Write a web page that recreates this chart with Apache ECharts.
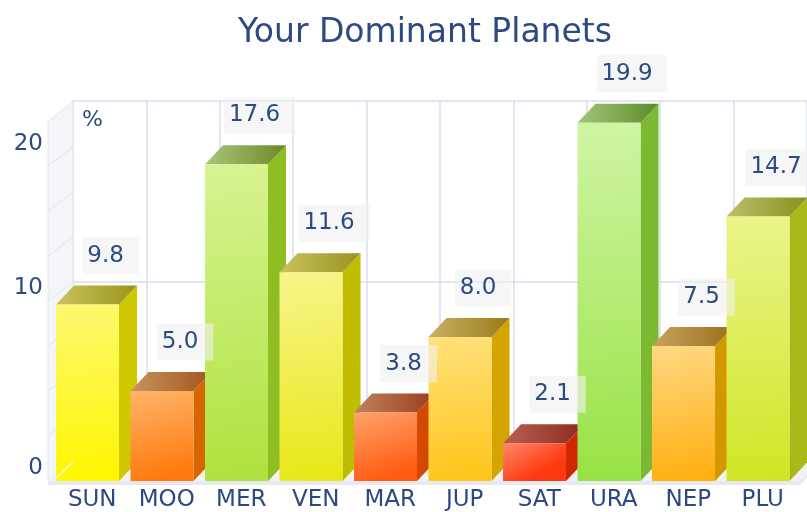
<!DOCTYPE html>
<html>
<head>
<meta charset="utf-8">
<script src="https://cdn.jsdelivr.net/npm/echarts@6/dist/echarts.min.js"></script>
<style>html,body{margin:0;padding:0;background:#fff}#c{width:807px;height:512px}</style>
</head>
<body>
<div id="c"></div>
<script>
const categories = ['SUN', 'MOO', 'MER', 'VEN', 'MAR', 'JUP', 'SAT', 'URA', 'NEP', 'PLU'];
const values = [9.8, 5.0, 17.6, 11.6, 3.8, 8.0, 2.1, 19.9, 7.5, 14.7];
const yTicks = [0, 10, 20];
const titleText = 'Your Dominant Planets';
const unitText = '%';

// [frontTop, frontBottom, side, topLeft, topRight]
const palette = [
  ['#fdf872', '#fff600', '#cfc700', '#c9c35e', '#9a9418'],
  ['#ffb46a', '#ff790c', '#d66600', '#c6935f', '#a3561a'],
  ['#d8f392', '#aee23e', '#8ebd24', '#aac678', '#6a8a28'],
  ['#f8f48a', '#e8e818', '#c0bd00', '#c9c262', '#9a931e'],
  ['#ffa26a', '#ff5c12', '#d44800', '#c2825e', '#993e1e'],
  ['#ffe27c', '#ffc51a', '#d4a400', '#c9b162', '#9a7b18'],
  ['#ff886a', '#ff3a12', '#cf2800', '#ba6052', '#8c2a1e'],
  ['#cff5a4', '#98e244', '#7bb930', '#a0c67a', '#5c8c28'],
  ['#ffd882', '#ffb012', '#d39800', '#c9a262', '#99701a'],
  ['#eaf58c', '#cfe624', '#a8b818', '#bac068', '#89911e']
];

const navy = '#2d4981';
const FONT = '"DejaVu Sans", Verdana, sans-serif';

function geom(api, i, v) {
  const base = api.coord([i, 0]);
  const top = api.coord([i, v]);
  const band = api.size([1, 0])[0];
  const w = band * 0.846;
  const dx = band * 0.242, dy = -band * 0.255;
  const l = base[0] - band / 2 + 1;
  return { l: l, r: l + w, w: w, t: top[1], b: base[1], dx: dx, dy: dy, band: band };
}

function lin(x2, y2, c1, c2) {
  return { type: 'linear', x: 0, y: 0, x2: x2, y2: y2, colorStops: [{ offset: 0, color: c1 }, { offset: 1, color: c2 }] };
}

function renderFrame(params, api) {
  const band = api.size([1, 0])[0];
  const dx = band * 0.242, dy = -band * 0.255;
  const p0 = api.coord([0, 0]);
  const pTop = api.coord([0, 20]);
  const pEnd = api.coord([categories.length - 1, 0]);
  const left = p0[0] - band / 2;
  const right = pEnd[0] + band / 2;
  const wf = left - 7;
  const children = [];
  children.push({ type: 'polygon', shape: { points: [[wf, pTop[1]], [left + dx, pTop[1] + dy], [left + dx, p0[1] + dy], [wf, p0[1]]] },
    style: { fill: '#f4f5f8', stroke: '#e4e6ee', lineWidth: 1 } });
  for (let k = 1; k < 8; k++) {
    const y = api.coord([0, k * 2.5])[1];
    children.push({ type: 'line', shape: { x1: wf, y1: y, x2: left + dx, y2: y + dy }, style: { stroke: '#e3e5ee', lineWidth: 1 } });
  }
  children.push({ type: 'polygon', shape: { points: [[wf, p0[1]], [right, p0[1]], [right + dx, p0[1] + dy], [left + dx, p0[1] + dy]] },
    style: { fill: '#f1f2f6' } });
  children.push({ type: 'rect', shape: { x: wf, y: p0[1], width: right - wf, height: 4 }, style: { fill: '#e6e9f1' } });
  children.push({ type: 'polygon', shape: { points: [[right, p0[1]], [right + dx, p0[1] + dy], [right + dx, p0[1] + dy + 4], [right, p0[1] + 4]] }, style: { fill: '#e6e9f1' } });
  return { type: 'group', children: children };
}

function renderBar(params, api) {
  const i = api.value(0), v = api.value(1);
  const g = geom(api, i, v);
  const c = palette[i];
  return {
    type: 'group',
    children: [
      { type: 'polygon', shape: { points: [[g.r, g.t], [g.r + g.dx, g.t + g.dy], [g.r + g.dx, g.b + g.dy], [g.r, g.b]] },
        style: { fill: c[2] } },
      { type: 'polygon', shape: { points: [[g.l, g.t], [g.r, g.t], [g.r + g.dx, g.t + g.dy], [g.l + g.dx, g.t + g.dy]] },
        style: { fill: lin(1, 0, c[3], c[4]) } },
      { type: 'rect', shape: { x: g.l, y: g.t, width: g.w, height: g.b - g.t },
        style: { fill: lin(0.35, 1, c[0], c[1]) } }
    ]
  };
}

function renderLabel(params, api) {
  const i = api.value(0), v = api.value(1);
  const g = geom(api, i, v);
  return {
    type: 'text',
    x: g.l + g.w / 2 + g.dx + 5,
    y: g.t + g.dy - 30,
    style: {
      text: v.toFixed(1), align: 'center', verticalAlign: 'middle',
      fontSize: 23, fontFamily: FONT, fill: navy,
      backgroundColor: 'rgba(240,240,240,0.62)', padding: [7, 15, 7, 5]
    }
  };
}

function renderEdge(params, api) {
  const band = api.size([1, 0])[0];
  const dx = band * 0.242, dy = -band * 0.255;
  const p0 = api.coord([0, 0]);
  const left = p0[0] - band / 2;
  return { type: 'line', shape: { x1: left, y1: p0[1] - 2, x2: left + dx, y2: p0[1] + dy }, style: { stroke: 'rgba(240,242,248,0.9)', lineWidth: 1.5 } };
}

const chart = echarts.init(document.getElementById('c'), null, { renderer: 'canvas' });
const barData = values.map((v, i) => [i, v]);

chart.setOption({
  animation: false,
  backgroundColor: '#ffffff',
  title: [
    { text: titleText, left: 233, top: 12, textStyle: { fontSize: 33, fontWeight: 'normal', color: navy, fontFamily: FONT } },
    { text: unitText, left: 77, top: 104, textStyle: { fontSize: 22, fontWeight: 'normal', color: navy, fontFamily: FONT } }
  ],
  grid: [
    { left: 55, right: 7, top: 121, bottom: 31 },
    { left: 73, right: -11, top: 101, bottom: 50 }
  ],
  xAxis: [
    { gridIndex: 0, type: 'category', data: categories, axisLine: { show: false }, axisTick: { show: false },
      splitLine: { show: false }, axisLabel: { color: navy, fontSize: 23, fontFamily: FONT, margin: 8, interval: 0 } },
    { gridIndex: 1, type: 'category', data: categories, axisLine: { show: false }, axisTick: { show: false },
      axisLabel: { show: false }, splitLine: { show: true, interval: 0, lineStyle: { color: '#dadded', width: 1.5 } } }
  ],
  yAxis: [
    { gridIndex: 0, type: 'value', min: 0, max: 20, show: false, splitLine: { show: false } },
    { gridIndex: 1, type: 'value', min: yTicks[0], max: yTicks[yTicks.length - 1], interval: yTicks[1] - yTicks[0],
      axisLine: { show: false }, axisTick: { show: false },
      splitLine: { show: true, lineStyle: { color: '#dadded', width: 1.5 } },
      axisLabel: {
        margin: 30,
        formatter: function (v) { return v === 20 ? '{b|' + v + '}' : '{a|' + v + '}'; },
        rich: {
          a: { fontSize: 23, color: navy, fontFamily: FONT, padding: [13, 0, 0, 0] },
          b: { fontSize: 23, color: navy, fontFamily: FONT, padding: [86, 0, 0, 0] }
        }
      } }
  ],
  series: [
    { type: 'custom', xAxisIndex: 0, yAxisIndex: 0, z: 1, data: [[0]], renderItem: renderFrame, silent: true },
    { type: 'custom', xAxisIndex: 0, yAxisIndex: 0, z: 3, data: barData, renderItem: renderBar, encode: { x: 0, y: 1 } },
    { type: 'custom', xAxisIndex: 0, yAxisIndex: 0, z: 5, data: [[0]], renderItem: renderEdge, silent: true },
    { type: 'custom', xAxisIndex: 0, yAxisIndex: 0, z: 6, data: barData, renderItem: renderLabel, encode: { x: 0, y: 1 } }
  ]
});
</script>
</body>
</html>
